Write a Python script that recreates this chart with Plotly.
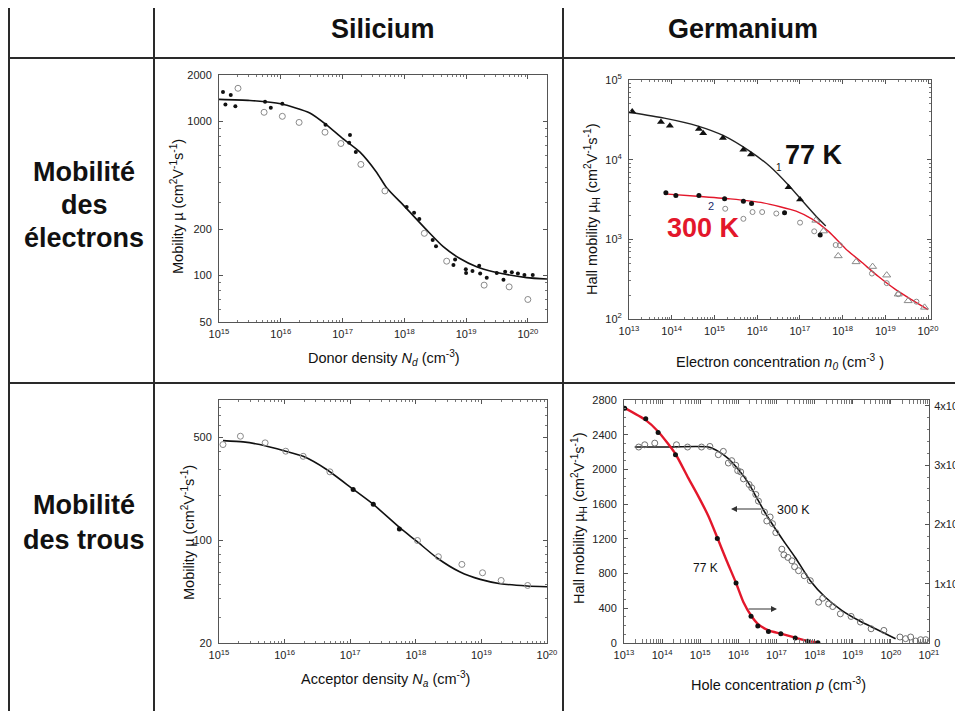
import plotly.graph_objects as go
import math

# page body adds an 8px offset, so the figure is 955x703 placed at (8, 8)
OFF = 8
W, H = 963 - OFF, 711 - OFF
FONT = "Liberation Sans, Arial, sans-serif"

# ---------------- Silicium : electrons ----------------
si_e_curve_N = [1e15, 3.16e15, 1e16, 2.95e16, 5.5e16, 1e17, 1.9e17, 3.55e17, 5.13e17, 1e18,
                2.29e18, 4.27e18, 7.94e18, 1.48e19, 2.75e19, 9.55e19, 2.04e20]
si_e_curve_mu = [1390, 1368, 1300, 1135, 951, 776, 634, 468, 373, 282,
                 198, 154, 129, 114, 106, 97, 95]
si_e_fill_N = [1.16e15, 1.27e15, 1.55e15, 1.84e15, 5.57e15, 6.9e15, 1.06e16, 5.3e16, 1.32e17, 1.28e17,
               1.64e17, 1.09e18, 1.44e18, 1.75e18, 2.88e18, 3.26e18, 6.64e18, 6.24e18, 9.9e18, 1e19,
               1.27e19, 1.63e19, 1.69e19, 2.16e19, 3.14e19, 4.29e19, 4.03e19, 5.5e19, 6.9e19, 8.8e19, 1.2e20]
si_e_fill_mu = [1553, 1288, 1483, 1256, 1340, 1225, 1300, 951, 816, 728,
                634, 279, 256, 233, 170, 155, 127, 117, 110, 104,
                107, 116, 103, 97, 104, 106, 94, 105, 103, 101, 101]
si_e_open_N = [2.03e15, 5.37e15, 1.06e16, 1.98e16, 5.2e16, 9.4e16, 1.98e17, 4.85e17, 2.11e18, 4.85e18,
               1.96e19, 4.98e19, 1e20]
si_e_open_mu = [1640, 1146, 1079, 985, 851, 719, 526, 354, 188, 124, 86.7, 84.5, 70]

# ---------------- Germanium : electrons ----------------
ge_e77_curve_n = [1e13, 6.7e13, 3.95e14, 1.64e15, 6.8e15, 1.97e16, 5.73e16, 1.16e17, 2.37e17, 4.04e17]
ge_e77_curve_mu = [3.94e4, 3.32e4, 2.66e4, 2.0e4, 1.27e4, 8.26e3, 4.64e3, 3.01e3, 1.96e3, 1.47e3]
ge_e300_curve_n = [6.7e13, 3.95e14, 2.34e15, 1.38e16, 8.17e16, 1.99e17, 4.83e17, 1.17e18, 2.85e18,
                   6.92e18, 1.69e19, 4.1e19, 9.95e19]
ge_e300_curve_mu = [3720, 3480, 3220, 2870, 2260, 1780, 1240, 764, 511, 341, 237, 175, 131]
ge_e77_tri_n = [1.19e13, 5.6e13, 9.05e13, 4.33e14, 5.45e14, 1.58e15, 4.76e15, 7.16e15, 5.43e16, 1.01e17]
ge_e77_tri_mu = [4.02e4, 2.96e4, 2.66e4, 2.42e4, 2.15e4, 1.87e4, 1.33e4, 1.16e4, 4500, 3160]
ge_e_opentri_n = [2.37e17, 3.57e17, 7.9e17, 2.07e18, 5.04e18, 1.08e19, 2.01e19, 3.43e19, 8.3e19]
ge_e_opentri_mu = [1730, 1270, 619, 521, 455, 355, 205, 169, 140]
ge_e300_dot_n = [7.3e13, 1.25e14, 4.33e14, 1.73e15, 4.76e15, 7.4e15, 4.38e16, 2.99e17]
ge_e300_dot_mu = [3830, 3550, 3550, 3220, 3010, 2820, 2150, 1130]
ge_e300_open_n = [1.79e15, 4.76e15, 7.8e15, 1.31e16, 2.81e16, 1.01e17, 2.17e17, 6.9e17, 8.67e17,
                  4.87e18, 1.08e19, 2.01e19, 5.35e19]
ge_e300_open_mu = [2420, 1810, 2200, 2200, 2110, 1620, 1260, 849, 841, 372, 282, 205, 165]

# ---------------- Silicium : holes ----------------
si_h_curve_N = [1.15e15, 2.33e15, 4.18e15, 1.04e16, 1.92e16, 4.37e16, 1.09e17, 2.25e17, 5.75e17,
                1.03e18, 2.09e18, 4.74e18, 9.6e18, 1.94e19, 4.95e19, 1e20]
si_h_curve_mu = [474, 465, 446, 402, 371, 302, 223, 175, 121, 98.4, 75.9, 60.7, 54.1, 50.6, 48.8, 48.2]
si_h_open_N = [1.15e15, 2.12e15, 5.05e15, 1.04e16, 1.92e16, 4.9e16, 1.06e18, 2.21e18, 5.04e18,
               1.04e19, 2.0e19, 5.07e19]
si_h_open_mu = [446, 508, 458, 402, 371, 291, 99.4, 77.1, 68.4, 60, 53.2, 49.2]
si_h_fill_N = [1.11e17, 2.25e17, 5.62e17]
si_h_fill_mu = [221, 175, 119]

# ---------------- Germanium : holes ----------------
ge_h300_curve_p = [1.91e13, 1.17e14, 1.63e15, 2.98e15, 5.46e15, 1e16, 1.83e16, 3.03e16, 5.03e16,
                   8.34e16, 1.53e17, 3.1e17, 7.69e17, 1.91e18, 5.24e18, 1.44e19, 3.94e19, 1.33e20]
ge_h300_curve_mu = [2258, 2258, 2258, 2208, 2124, 1998, 1845, 1673, 1501, 1348, 1177, 986, 718,
                    527, 374, 260, 164, 50]
ge_h300_open_p = [2.43e13, 3.5e13, 6.41e13, 2.38e14, 4.65e14, 1.08e15, 1.79e15, 2.98e15, 4.03e15,
                  5.46e15, 6.68e15, 8.51e15, 9.6e15, 1.15e16, 1.36e16, 1.91e16, 2.24e16, 2.86e16,
                  3.36e16, 4.83e16, 5.57e16, 6.81e16, 7.85e16, 9.59e16, 1.38e17, 1.56e17, 1.99e17,
                  2.54e17, 2.98e17, 3.79e17, 5.35e17, 7.69e17, 1.27e18, 1.63e18, 2.33e18, 2.98e18,
                  4.73e18, 9.04e18, 1.59e19, 3.03e19, 6.55e19, 1.73e20, 2.43e20, 3.3e20, 4.46e20,
                  6.04e20, 8.17e20]
ge_h300_open_mu = [2258, 2284, 2303, 2284, 2258, 2258, 2265, 2170, 2208, 2074, 2101, 2048, 1986,
                   1971, 1891, 1826, 1788, 1711, 1635, 1509, 1406, 1452, 1375, 1272, 1081, 1016,
                   986, 947, 879, 833, 775, 718, 470, 516, 451, 420, 336, 306, 241, 164, 145, 69,
                   50, 69, 23, 38, 38]
ge_h77_curve_p = [1e13, 3.72e13, 7.85e13, 2.24e14, 4.83e14, 8.85e14, 1.63e15, 2.8e15, 4.93e15,
                  8.69e15, 1.36e16, 2.15e16, 3.23e16, 6.15e16, 1.3e17, 3.1e17, 6.55e17, 1.27e18]
ge_h77_curve_mu = [3.972e4, 3.76e4, 3.569e4, 3.189e4, 2.786e4, 2.478e4, 2.143e4, 1.779e4, 1.387e4,
                   1.013e4, 6880, 4640, 3240, 2130, 1570, 900, 340, 60]
ge_h77_dot_p = [1.04e13, 3.72e13, 7.85e13, 2.24e14, 2.8e15, 8.69e15, 2.15e16, 3.23e16, 6.15e16,
                1.3e17, 3.1e17, 6.55e17, 1.22e18]
ge_h77_dot_mu = [3.961e4, 3.782e4, 3.552e4, 3.178e4, 1.762e4, 1.013e4, 4530, 2850, 1960, 1570,
                 840, 280, 60]

x_ticks_si = [1e15, 1e16, 1e17, 1e18, 1e19, 1e20]
x_ticks_ge_e = [1e13, 1e14, 1e15, 1e16, 1e17, 1e18, 1e19, 1e20]
x_ticks_ge_h = [1e13, 1e14, 1e15, 1e16, 1e17, 1e18, 1e19, 1e20, 1e21]
y_ticks_si_e = [50, 100, 200, 1000, 2000]
y_ticks_ge_e = [1e2, 1e3, 1e4, 1e5]
y_ticks_si_h = [20, 100, 500]
y_ticks_ge_h = [0, 400, 800, 1200, 1600, 2000, 2400, 2800]
y_ticks_ge_h77 = [0, 1e4, 2e4, 3e4, 4e4]
y_ticktext_ge_h77 = ["0", "1x10<sup>4</sup>", "2x10<sup>4</sup>", "3x10<sup>4</sup>", "4x10<sup>4</sup>"]


def pw(v):
    return "10<sup>%d</sup>" % round(math.log10(v))


def px(x):
    return (x - OFF) / W


def py(y):
    return 1 - (y - OFF) / H


fig = go.Figure()

BLK = "#111111"
GRY = "#8a8a8a"
RED = "#e3172b"


def line(x, y, xa, ya, color=BLK, width=1.6):
    fig.add_trace(go.Scatter(x=x, y=y, mode="lines",
                             line=dict(color=color, width=width, shape="spline", smoothing=0.6),
                             xaxis=xa, yaxis=ya, showlegend=False, hoverinfo="skip"))


def dots(x, y, xa, ya, symbol="circle", size=4, color=BLK, lc=None, lw=0):
    fig.add_trace(go.Scatter(x=x, y=y, mode="markers",
                             marker=dict(symbol=symbol, size=size, color=color,
                                         line=dict(color=lc or color, width=lw)),
                             xaxis=xa, yaxis=ya, showlegend=False))


# Plot 1
line(si_e_curve_N, si_e_curve_mu, "x", "y")
dots(si_e_fill_N, si_e_fill_mu, "x", "y", size=4)
dots(si_e_open_N, si_e_open_mu, "x", "y", symbol="circle-open", size=6, color=GRY, lw=1)

# Plot 2
line(ge_e77_curve_n, ge_e77_curve_mu, "x2", "y2", color="#222222", width=1.4)
line(ge_e300_curve_n, ge_e300_curve_mu, "x2", "y2", color=RED, width=1.4)
dots(ge_e77_tri_n, ge_e77_tri_mu, "x2", "y2", symbol="triangle-up", size=7)
dots(ge_e_opentri_n, ge_e_opentri_mu, "x2", "y2", symbol="triangle-up-open", size=7, color=GRY, lw=1)
dots(ge_e300_dot_n, ge_e300_dot_mu, "x2", "y2", size=5)
dots(ge_e300_open_n, ge_e300_open_mu, "x2", "y2", symbol="circle-open", size=5, color=GRY, lw=1)

# Plot 3
line(si_h_curve_N, si_h_curve_mu, "x3", "y3")
dots(si_h_open_N, si_h_open_mu, "x3", "y3", symbol="circle-open", size=6, color=GRY, lw=1)
dots(si_h_fill_N, si_h_fill_mu, "x3", "y3", size=5)

# Plot 4
line(ge_h300_curve_p, ge_h300_curve_mu, "x4", "y4", width=1.6)
dots(ge_h300_open_p, ge_h300_open_mu, "x4", "y4", symbol="circle-open", size=6, color="#707070", lw=1)
line(ge_h77_curve_p, ge_h77_curve_mu, "x4", "y5", color=RED, width=2.4)
dots(ge_h77_dot_p, ge_h77_dot_mu, "x4", "y5", size=5)

tickfont = dict(family=FONT, size=11, color="#222")
MINOR_LOG = dict(ticks="inside", ticklen=2, tickcolor="#777", dtick="D1")


def xax(d0, d1, rng, ticks, anchor):
    return dict(type="log", domain=[px(d0), px(d1)], range=rng, anchor=anchor,
                tickvals=ticks, ticktext=[pw(t) for t in ticks], tickfont=tickfont,
                showline=True, linecolor="#555", linewidth=1, mirror="allticks",
                ticks="inside", ticklen=4, tickcolor="#555", ticklabelstandoff=2,
                minor=MINOR_LOG, showgrid=False, zeroline=False, automargin=False)


def yax(d0, d1, rng, ticks, anchor, typ="log", text=None):
    return dict(type=typ, domain=[py(d1), py(d0)], range=rng, anchor=anchor,
                tickvals=ticks, ticktext=text if text else [("%g" % t) for t in ticks],
                tickfont=tickfont,
                showline=True, linecolor="#555", linewidth=1, mirror="allticks",
                ticks="inside", ticklen=4, tickcolor="#555", ticklabelstandoff=4,
                minor=MINOR_LOG, showgrid=False, zeroline=False, automargin=False)


y2 = yax(80, 319, [2, 5], y_ticks_ge_e, "x2", text=[pw(t) for t in y_ticks_ge_e])
y4 = yax(400, 643, [0, 2800], y_ticks_ge_h, "x4", typ="linear")
y4["mirror"] = False
y4["minor"] = dict(ticks="inside", ticklen=2, tickcolor="#777", dtick=100)
y5 = dict(type="linear", overlaying="y4", side="right", anchor="x4", range=[0, 41000],
          tickvals=y_ticks_ge_h77, ticktext=y_ticktext_ge_h77,
          tickfont=dict(family=FONT, size=11, color="#222"),
          showline=True, linecolor="#555", linewidth=1, ticks="inside", ticklen=4, tickcolor="#555",
          ticklabelstandoff=2,
          minor=dict(ticks="inside", ticklen=2, tickcolor="#777", dtick=2000),
          showgrid=False, zeroline=False, automargin=False)

fig.update_layout(
    width=W, height=H, margin=dict(l=0, r=0, t=0, b=0),
    paper_bgcolor="white", plot_bgcolor="white", showlegend=False,
    font=dict(family=FONT, color="#222"),
    xaxis=xax(219, 547, [15, 20.31], x_ticks_si, "y"),
    yaxis=yax(75, 322, [math.log10(50), math.log10(2000)], y_ticks_si_e, "x"),
    xaxis2=xax(629, 931, [13, 20.07], x_ticks_ge_e, "y2"),
    yaxis2=y2,
    xaxis3=xax(219, 547, [15, 20], x_ticks_si, "y3"),
    yaxis3=yax(400, 643, [math.log10(20), 2.952], y_ticks_si_h, "x3"),
    xaxis4=xax(624, 929, [13, 21], x_ticks_ge_h, "y4"),
    yaxis4=y4,
    yaxis5=y5,
)

# table grid
shapes = []
LC = "#2a2a2a"
for yy in [4, 58, 383]:
    shapes.append(dict(type="line", xref="paper", yref="paper", x0=px(9), x1=1.0, y0=py(yy), y1=py(yy),
                       line=dict(color=LC, width=2)))
for xx in [9, 154, 563]:
    shapes.append(dict(type="line", xref="paper", yref="paper", x0=px(xx), x1=px(xx), y0=py(4), y1=0,
                       line=dict(color=LC, width=2)))
fig.update_layout(shapes=shapes)

ann = []


def txt(text, x, y, size, color="#111", bold=False, angle=0, xanchor="center"):
    ann.append(dict(text=("<b>%s</b>" % text) if bold else text, x=px(x), y=py(y), xref="paper", yref="paper",
                    showarrow=False, xanchor=xanchor, yanchor="middle", textangle=angle,
                    font=dict(family=FONT, size=size, color=color)))


txt("Silicium", 383, 29, 27, bold=True)
txt("Germanium", 743, 29, 27, bold=True)
txt("Mobilité", 84, 172, 27, bold=True)
txt("des", 84, 205, 27, bold=True)
txt("électrons", 84, 238, 27, bold=True)
txt("Mobilité", 84, 505, 27, bold=True)
txt("des trous", 84, 540, 27, bold=True)

# axis titles
TS = 14.5
txt("Donor density <i>N<sub>d</sub></i> (cm<sup>-3</sup>)", 384, 358, TS)
txt("Mobility µ (cm<sup>2</sup>V<sup>-1</sup>s<sup>-1</sup>)", 177, 207, TS, angle=-90)
txt("Electron concentration <i>n<sub>0</sub></i> (cm<sup>-3</sup> )", 780, 362, TS)
txt("Hall mobility µ<sub>H</sub> (cm<sup>2</sup>V<sup>-1</sup>s<sup>-1</sup>)", 592, 210, TS, angle=-90)
txt("Acceptor density <i>N<sub>a</sub></i> (cm<sup>-3</sup>)", 385, 679, TS)
txt("Mobility µ (cm<sup>2</sup>V<sup>-1</sup>s<sup>-1</sup>)", 188, 533, TS, angle=-90)
txt("Hole concentration <i>p</i> (cm<sup>-3</sup>)", 778, 684, TS)
txt("Hall mobility µ<sub>H</sub> (cm<sup>2</sup>V<sup>-1</sup>s<sup>-1</sup>)", 579, 519, TS, angle=-90)

# plot labels
txt("77 K", 814, 155, 27, bold=True)
txt("1", 779, 167, 10)
txt("300 K", 703, 228, 27, color=RED, bold=True)
txt("2", 711, 206, 11, color="#1a2a6a")
txt("300 K", 793, 510, 12.5)
txt("77 K", 705, 568, 12)

# arrows
ann.append(dict(x=px(731), y=py(509), xref="paper", yref="paper", ax=32, ay=0, showarrow=True,
                arrowhead=2, arrowsize=1, arrowwidth=1.2, arrowcolor="#333", text=""))
ann.append(dict(x=px(777), y=py(609), xref="paper", yref="paper", ax=-30, ay=0, showarrow=True,
                arrowhead=2, arrowsize=1, arrowwidth=1.2, arrowcolor="#333", text=""))
fig.update_layout(annotations=ann)

fig.write_html("out.html")
